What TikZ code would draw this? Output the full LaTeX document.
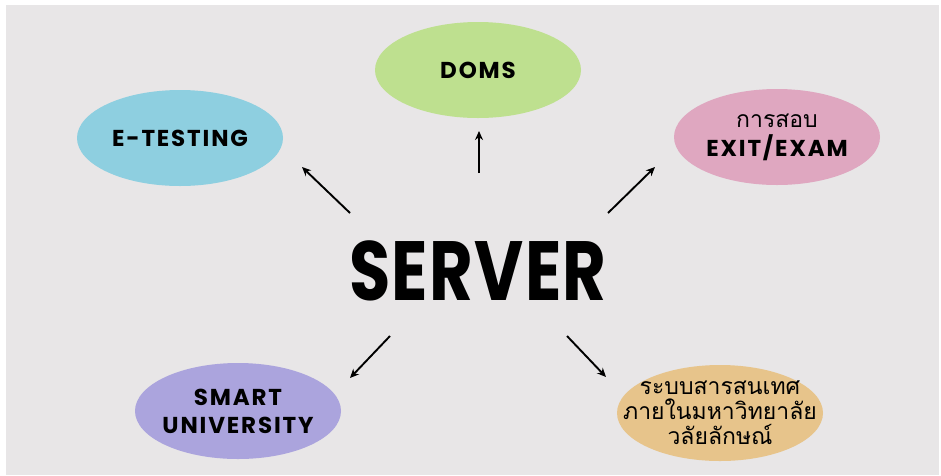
\documentclass[tikz,border=0pt]{standalone}
\usepackage{fontspec}
\setmainfont{Poppins}
\newfontfamily\handfont[LetterSpace=8]{Poppins}
\newfontfamily\bigfont[LetterSpace=2]{Poppins}
\newfontfamily\thaifont[Script=Thai]{Loma}
\usepackage{tikz}
\usetikzlibrary{shapes.geometric,arrows.meta}
\tikzset{>={Stealth[length=9pt,width=8pt]}}
\definecolor{bggray}{HTML}{E8E6E7}
\definecolor{dgreen}{HTML}{BEE08F}
\definecolor{dblue}{HTML}{8ECFE0}
\definecolor{dpink}{HTML}{DFA7C0}
\definecolor{dpurple}{HTML}{ABA4DD}
\definecolor{dtan}{HTML}{E7C48B}
\newcommand{\capsfont}{\handfont\bfseries\fontsize{23}{28}\selectfont}
\tikzset{
  bubble/.style={ellipse, minimum width=206pt, minimum height=96pt, inner sep=0pt},
  caps/.style={font=\capsfont, align=center},
  thai/.style={font=\thaifont\fontsize{23}{25}\selectfont, align=center},
}

\begin{document}
\begin{tikzpicture}[x=1pt, y=-1pt]
    \useasboundingbox (0,0) rectangle (941,475);
    \fill[bggray] (6,5) rectangle (939,475);
    \node[font=\bigfont\bfseries\fontsize{84}{90}\selectfont, xscale=0.8, transform shape] (server) at (478,271) {SERVER};
    \node[bubble, fill=dblue, label={[caps]center:E-TESTING}] (etest) at (180,138) {};
    \node[bubble, fill=dgreen, label={[caps]center:DOMS}] (doms) at (478,70) {};
    \node[bubble, fill=dpink, label={[align=center, font=\fontsize{23}{29}\selectfont]center:{\thaifont การสอบ}\\{\capsfont EXIT/EXAM}}] (exit) at (777,137) {};
    \node[bubble, fill=dpurple, label={[caps]center:SMART\\UNIVERSITY}] (smart) at (238,411) {};
    \node[bubble, fill=dtan, label={[thai]center:ระบบสารสนเทศ\\ภายในมหาวิทยาลัย\\วลัยลักษณ์}] (info) at (720,413) {};
    \coordinate (a1) at (350,213); \coordinate (b1) at (302,167);
    \coordinate (a2) at (479,173); \coordinate (b2) at (479,131);
    \coordinate (a3) at (608,213); \coordinate (b3) at (655,167);
    \coordinate (a4) at (390,336); \coordinate (b4) at (350,378);
    \coordinate (a5) at (567,336); \coordinate (b5) at (606,377);
    \foreach \i in {1,...,5}
      \draw[->, line width=1.9pt] (a\i) -- (b\i);
\end{tikzpicture}
\end{document}
